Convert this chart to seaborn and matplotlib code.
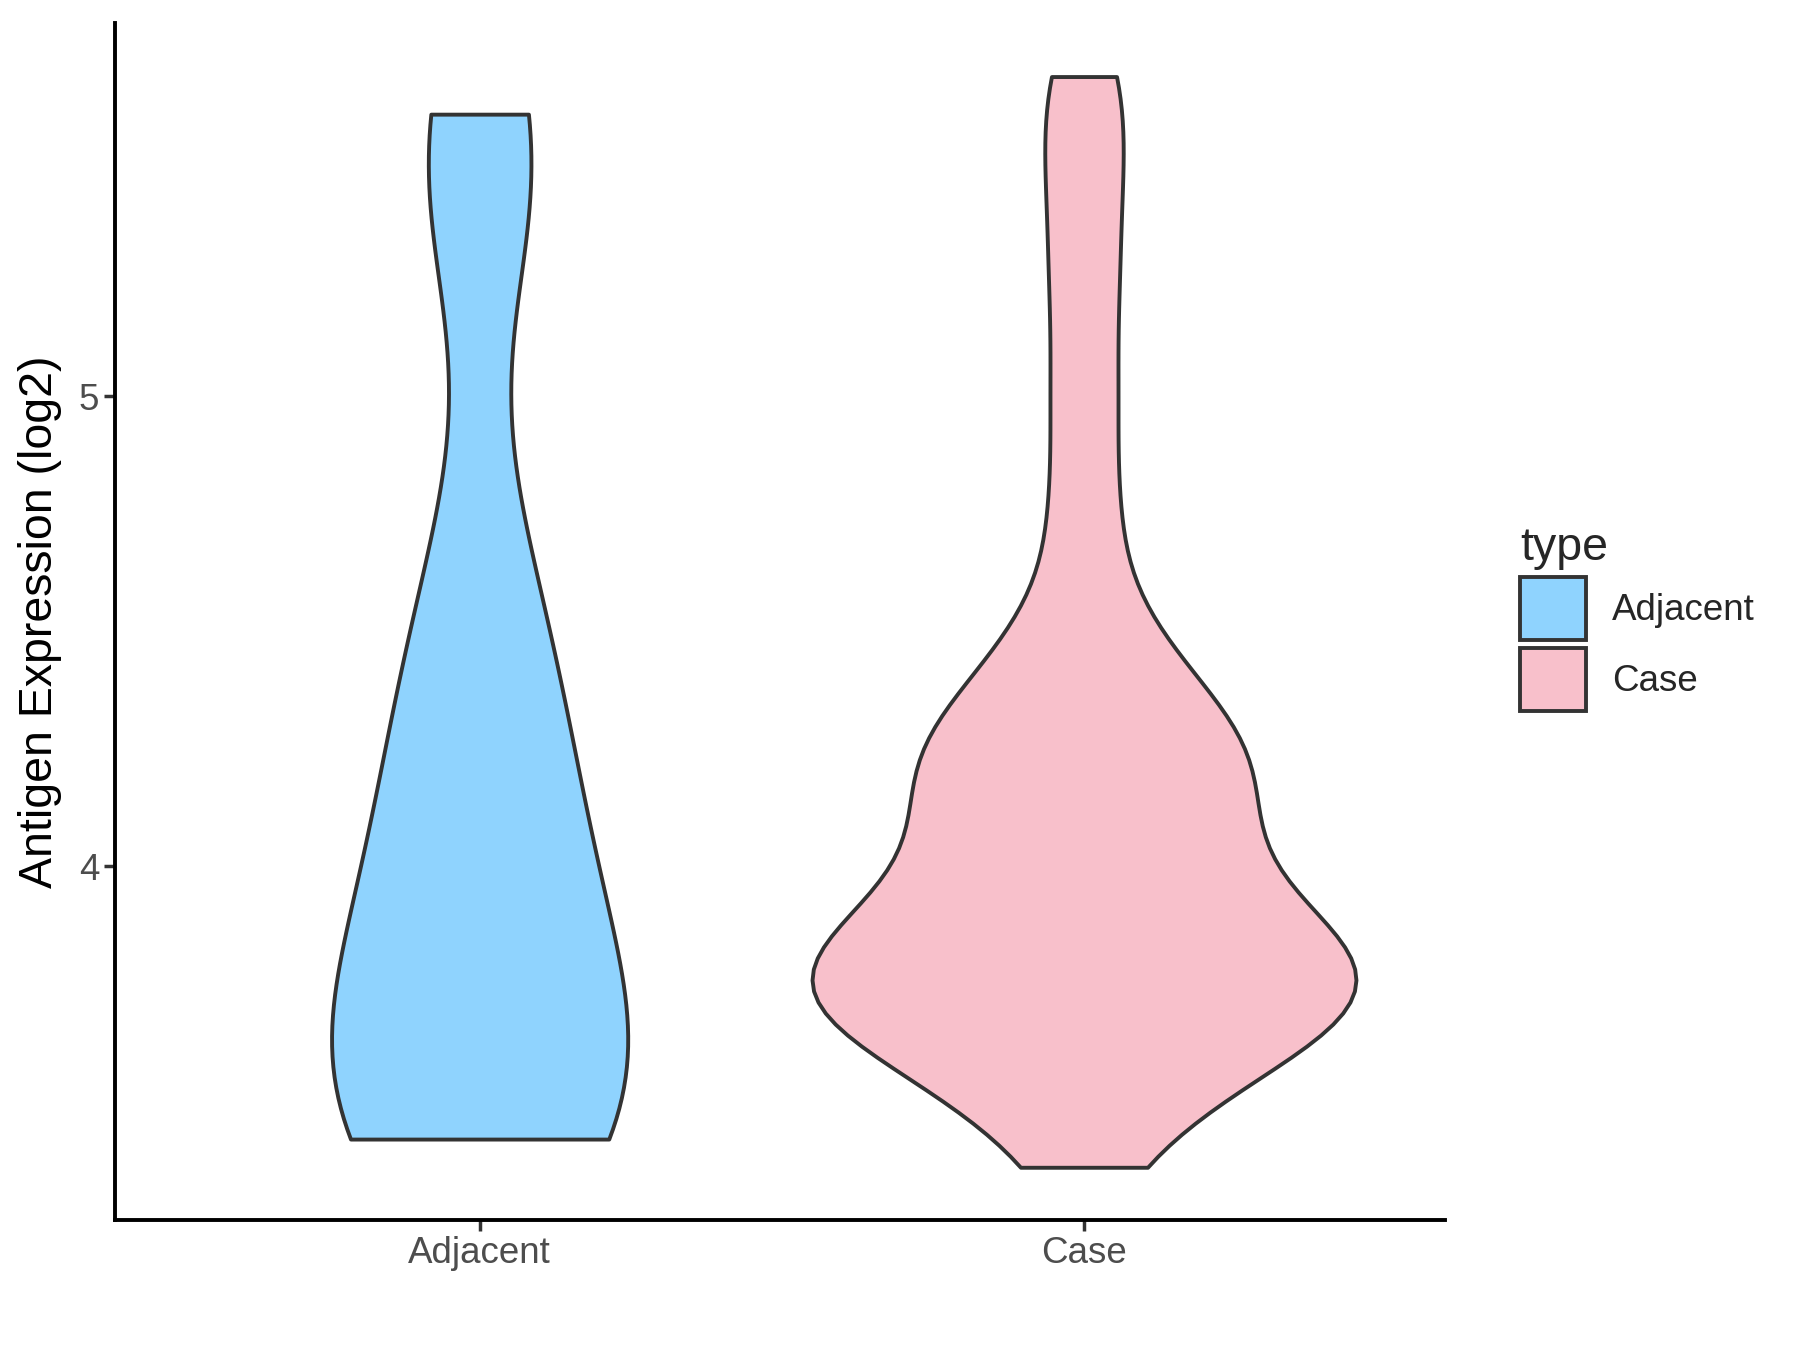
import seaborn as sns
import numpy as np
import matplotlib.pyplot as plt
import pandas as pd
from matplotlib.patches import Patch

# values (log2 expression)
adjacent = [3.42, 3.42, 3.44, 3.46, 3.52, 3.62, 3.72, 3.82, 3.93, 4.05, 4.18, 4.32,
            4.48, 4.68, 5.35, 5.55, 5.60]
case = [3.36, 3.50, 3.56, 3.60, 3.64, 3.67, 3.70, 3.72, 3.74, 3.76, 3.78, 3.80, 3.83,
        3.86, 3.90, 3.95, 4.00, 4.06, 4.12, 4.18, 4.22, 4.23, 4.28, 4.34, 4.42, 4.52,
        4.75, 5.00, 5.25, 5.48, 5.68]
groups = ["Adjacent", "Case"]
colors = {"Adjacent": "#8FD3FE", "Case": "#F8C0CB"}

df = pd.DataFrame({
    "type": ["Adjacent"] * len(adjacent) + ["Case"] * len(case),
    "value": adjacent + case,
})

sns.set_style("ticks")
plt.rcParams["font.family"] = ["Liberation Sans", "DejaVu Sans"]

fig = plt.figure(figsize=(18, 13.5), dpi=100)
ax = fig.add_axes([0.064, 0.096, 0.739, 0.887])

# each group its own bandwidth and width
for g, bw, w in [("Adjacent", 0.40, 0.49), ("Case", 0.25, 0.9)]:
    sns.violinplot(data=df[df["type"] == g], x="type", y="value", hue="type",
                   order=groups, hue_order=groups, palette=colors, legend=False,
                   cut=0, inner=None, bw_method=bw, density_norm="width",
                   width=w, linewidth=2.8, linecolor="#333333", saturation=1,
                   dodge=False, ax=ax)

ax.set_xlim(-0.603, 1.598)
ax.set_ylim(3.247, 5.794)
ax.set_yticks([4, 5])
ax.set_xlabel("")
ax.set_ylabel("Antigen Expression (log2)", fontsize=33.5, color="black", labelpad=12)
ax.tick_params(axis="both", labelsize=26.5, colors="#333333", length=8, width=2.5, labelcolor="#4d4d4d")
for s in ["top", "right"]:
    ax.spines[s].set_visible(False)
for s in ["left", "bottom"]:
    ax.spines[s].set_linewidth(2.8)
    ax.spines[s].set_color("black")

handles = [Patch(facecolor=colors[g], edgecolor="#333333", linewidth=2.8, label=g) for g in groups]
leg = fig.legend(handles=handles, title="type", loc="center left", bbox_to_anchor=(0.826, 0.542),
                 frameon=False, fontsize=26.5, title_fontsize=33.5, handlelength=1.8, handleheight=2.25,
                 handletextpad=0.7, labelspacing=0.2, alignment="left")

fig.savefig("out.png", dpi=100)
